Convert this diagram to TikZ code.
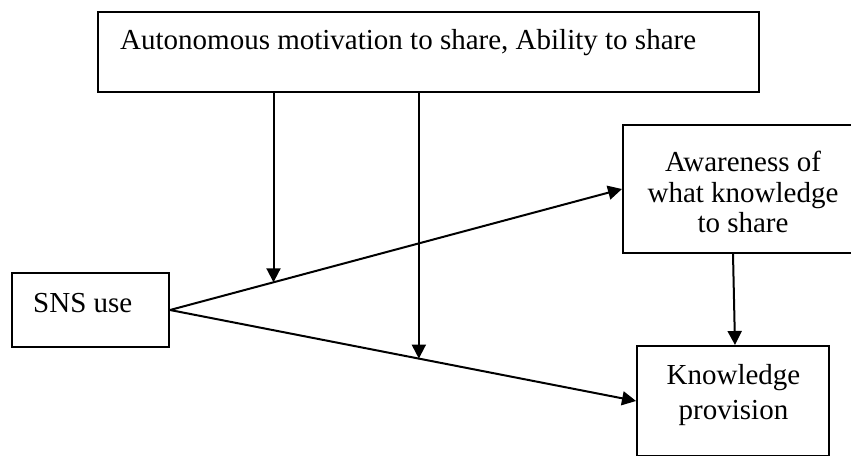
\documentclass[tikz,border=0pt]{standalone}
\usepackage{fontspec}
\setmainfont{Liberation Serif}
\usetikzlibrary{arrows.meta}
\begin{document}
\begin{tikzpicture}[x=1pt,y=-1pt,
  box/.style={draw, line width=2pt, rectangle, inner sep=0pt},
  lbl/.style={anchor=base, inner sep=0pt, font=\fontsize{29}{33}\selectfont},
  arr/.style={line width=2pt, -{Triangle[length=14pt,width=14pt]}}]
\useasboundingbox (0,0) rectangle (851,455);

% boxes
\node[box, minimum width=661pt, minimum height=80pt] (mod) at (428.5,52) {};
\node[box, minimum width=157pt, minimum height=74pt] (sns) at (90.5,310) {};
\node[box, minimum width=240pt, minimum height=128pt] (aware) at (743,189) {};
\node[box, minimum width=192pt, minimum height=110pt] (know) at (733,401) {};

% labels
\node[lbl, anchor=base west] (modtxt) at (120,49) {Autonomous motivation to share, Ability to share};
\node[lbl, anchor=base west] (snstxt) at (33,312) {SNS use};
\node[lbl] (aw1) at (743,171.5) {Awareness of};
\node[lbl] (aw2) at (743,202) {what knowledge};
\node[lbl] (aw3) at (743,232) {to share};
\node[lbl] (kn1) at (733.5,384) {Knowledge};
\node[lbl] (kn2) at (733.5,419) {provision};

% paths from SNS use, with the points where the moderators meet them
\draw[arr] (sns.east) -- (aware.west) coordinate[pos=0.229] (m1);
\draw[arr] (sns.east) -- (know.west) coordinate[pos=0.534] (m2);

% moderating arrows
\draw[arr] (mod.south -| m1) -- (m1);
\draw[arr] (mod.south -| m2) -- (m2);

% awareness leads to provision
\draw[arr] ([xshift=-10pt]aware.south) -- ([xshift=2pt]know.north);
\end{tikzpicture}
\end{document}
